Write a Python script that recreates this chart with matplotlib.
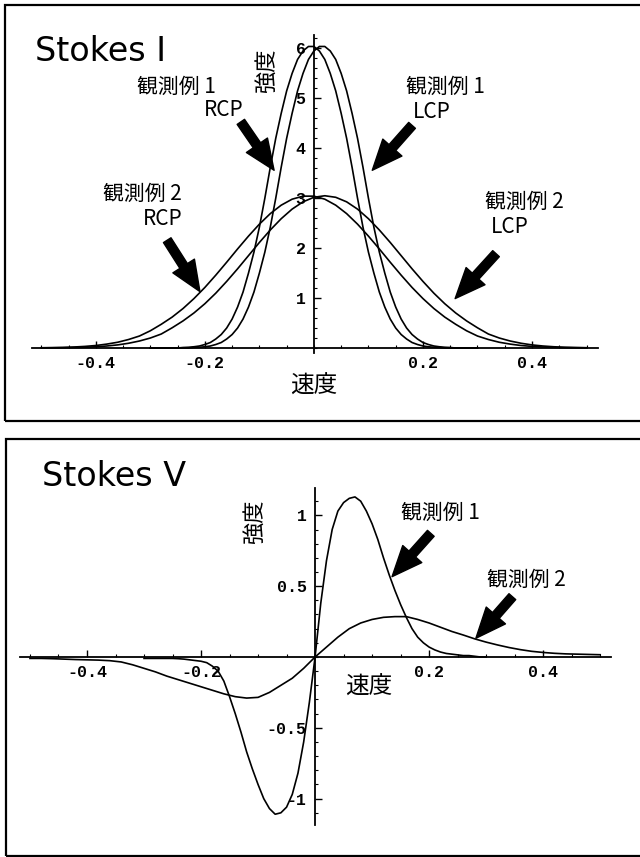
import numpy as np
import matplotlib
matplotlib.use("Agg")
import matplotlib.pyplot as plt
from matplotlib.patches import Rectangle
from matplotlib.ticker import FixedLocator, FixedFormatter, MultipleLocator

# ---------------- data ----------------
x_narrow = np.round(np.arange(-0.30, 0.3001, 0.01), 2)   # sampling for 観測例1
x_broad = np.round(np.arange(-0.50, 0.5001, 0.02), 2)    # sampling for 観測例2

# Stokes I, 観測例1 (narrow)
i_obs1_rcp = [0, 0, 0, 0, 0, 0,
              0.01, 0.015, 0.025, 0.04, 0.07, 0.11, 0.18, 0.27, 0.4, 0.58, 0.82, 1.12,
              1.5, 1.92, 2.42, 3.0, 3.62, 4.2, 4.7, 5.15, 5.5, 5.78, 5.95, 6.04,
              6.04, 5.95, 5.78, 5.5, 5.15, 4.7, 4.2, 3.62, 3.0, 2.42, 1.92, 1.5,
              1.12, 0.82, 0.58, 0.4, 0.27, 0.18, 0.11, 0.07, 0.04, 0.025, 0.015, 0.01,
              0, 0, 0, 0, 0, 0, 0]
i_obs1_lcp = [0, 0, 0, 0, 0, 0, 0, 0,
              0.01, 0.015, 0.025, 0.04, 0.07, 0.11, 0.18, 0.27, 0.4, 0.58, 0.82, 1.12,
              1.5, 1.92, 2.42, 3.0, 3.62, 4.2, 4.7, 5.15, 5.5, 5.78, 5.95, 6.04,
              6.04, 5.95, 5.78, 5.5, 5.15, 4.7, 4.2, 3.62, 3.0, 2.42, 1.92, 1.5,
              1.12, 0.82, 0.58, 0.4, 0.27, 0.18, 0.11, 0.07, 0.04, 0.025, 0.015, 0.01,
              0, 0, 0, 0, 0]
# Stokes I, 観測例2 (broad)
i_obs2_rcp = [0.005, 0.008, 0.012, 0.02, 0.032, 0.05, 0.078, 0.115, 0.17, 0.24,
              0.345, 0.475, 0.619, 0.791, 0.99, 1.213, 1.459, 1.718, 1.984, 2.241,
              2.481, 2.692, 2.861, 2.981, 3.042,
              3.042,
              2.981, 2.861, 2.692, 2.481, 2.241, 1.984, 1.718, 1.459, 1.213, 0.99,
              0.791, 0.619, 0.475, 0.345, 0.24, 0.17, 0.115, 0.078, 0.05, 0.032,
              0.02, 0.012, 0.008, 0.005, 0.003]
i_obs2_lcp = [0.003, 0.004, 0.006, 0.01, 0.015, 0.025, 0.04, 0.062, 0.095, 0.14,
              0.2, 0.28, 0.405, 0.543, 0.702, 0.887, 1.098, 1.334, 1.586, 1.85,
              2.114, 2.364, 2.59, 2.782, 2.928,
              3.019,
              3.05, 3.019, 2.928, 2.782, 2.59, 2.364, 2.114, 1.85, 1.586, 1.334,
              1.098, 0.887, 0.702, 0.543, 0.405, 0.28, 0.2, 0.14, 0.095, 0.062,
              0.04, 0.025, 0.015, 0.01, 0.006]

# Stokes V
v_obs1 = [-0.01, -0.01, -0.01, -0.01, -0.01, -0.01,
          -0.012, -0.015, -0.02, -0.025, -0.03, -0.04, -0.065, -0.1, -0.17, -0.28,
          -0.4, -0.53, -0.67, -0.79, -0.9, -1.0, -1.07, -1.11, -1.1, -1.06, -0.97,
          -0.82, -0.6, -0.32,
          0,
          0.38, 0.68, 0.9, 1.03, 1.09, 1.12, 1.13, 1.1, 1.03, 0.94,
          0.83, 0.7, 0.58, 0.47, 0.37, 0.28, 0.2, 0.14, 0.1, 0.07,
          0.05, 0.035, 0.025, 0.02, 0.015, 0.01, 0.01, 0.005, 0, 0]
v_obs2 = [-0.01, -0.01, -0.012, -0.015, -0.018, -0.02, -0.022, -0.026, -0.035, -0.055,
          -0.08, -0.105, -0.135, -0.16, -0.185, -0.21, -0.235, -0.26, -0.28, -0.29,
          -0.285, -0.25, -0.2, -0.15, -0.08,
          0,
          0.07, 0.14, 0.2, 0.24, 0.265, 0.28, 0.285, 0.285, 0.265, 0.24,
          0.21, 0.18, 0.155, 0.128, 0.105, 0.085, 0.067, 0.052, 0.04, 0.032,
          0.026, 0.022, 0.02, 0.018, 0.016]

x_tick_vals = [-0.4, -0.2, 0.2, 0.4]
x_tick_labels = ["-0.4", "-0.2", "0.2", "0.4"]
i_tick_vals = [1, 2, 3, 4, 5, 6]
i_tick_labels = ["1", "2", "3", "4", "5", "6"]
v_tick_vals = [-1, -0.5, 0.5, 1]
v_tick_labels = ["-1", "-0.5", "0.5", "1"]

# ---------------- figure ----------------
W, H = 640, 857
fig = plt.figure(figsize=(W / 100, H / 100), dpi=100)
fig.patch.set_facecolor("white")

CJK = ["Noto Sans CJK JP", "DejaVu Sans"]
TICKFONT = dict(family="Liberation Mono", weight="bold", size=12)
LBL = 15


def px_rect(x0, y0, x1, y1):
    return [x0 / W, 1 - y1 / H, (x1 - x0) / W, (y1 - y0) / H]


# frames
for (x0, y0, x1, y1) in [(5, 5, 648, 421), (6, 439, 648, 856)]:
    fig.patches.append(Rectangle((x0 / W, 1 - y1 / H), (x1 - x0) / W, (y1 - y0) / H,
                                 transform=fig.transFigure, fill=False,
                                 edgecolor="black", linewidth=1.6, clip_on=False))


def style_axes(ax, ytick_vals, ytick_labels, yminor):
    for s in ["top", "right"]:
        ax.spines[s].set_visible(False)
    ax.spines["left"].set_position(("data", 0))
    ax.spines["bottom"].set_position(("data", 0))
    ax.spines["left"].set_linewidth(1.3)
    ax.spines["bottom"].set_linewidth(1.3)
    ax.patch.set_visible(False)
    ax.xaxis.set_major_locator(FixedLocator(x_tick_vals))
    ax.xaxis.set_major_formatter(FixedFormatter(x_tick_labels))
    ax.xaxis.set_minor_locator(MultipleLocator(0.05))
    ax.yaxis.set_major_locator(FixedLocator(ytick_vals))
    ax.yaxis.set_major_formatter(FixedFormatter(ytick_labels))
    ax.yaxis.set_minor_locator(MultipleLocator(yminor))
    ax.tick_params(which="major", direction="in", length=5, width=1.0, pad=6)
    ax.tick_params(which="minor", direction="in", length=2.5, width=0.8)
    for lab in ax.get_xticklabels() + ax.get_yticklabels():
        lab.set_fontfamily(TICKFONT["family"])
        lab.set_fontweight(TICKFONT["weight"])
        lab.set_fontsize(TICKFONT["size"])


arrow_props = dict(arrowstyle="simple,head_length=0.95,head_width=0.8,tail_width=0.28",
                   mutation_scale=23, fc="black", ec="black", shrinkA=0, shrinkB=0)

# ---------------- Stokes I ----------------
ax1 = fig.add_axes(px_rect(32, 35, 598, 353))
ax1.set_xlim(-0.517, 0.521)
ax1.set_ylim(-0.1, 6.27)
lw = 1.2
ax1.plot(x_narrow, i_obs1_rcp, color="black", lw=lw)
ax1.plot(x_narrow, i_obs1_lcp, color="black", lw=lw)
ax1.plot(x_broad, i_obs2_rcp, color="black", lw=lw)
ax1.plot(x_broad, i_obs2_lcp, color="black", lw=lw)
style_axes(ax1, i_tick_vals, i_tick_labels, 0.2)

ax1.text(-0.512, 5.94, "Stokes I", fontsize=24, family="DejaVu Sans", ha="left", va="center")
ax1.text(-0.088, 5.56, "強度", fontsize=16, family=CJK, rotation=90, ha="center", va="center")
ax1.text(0.0, -0.77, "速度", fontsize=17, family=CJK, ha="center", va="center", clip_on=False)

ax1.text(-0.252, 5.23, "観測例 1", fontsize=LBL, family=CJK, ha="center", va="center")
ax1.text(-0.166, 4.76, "RCP", fontsize=LBL, family=CJK, ha="center", va="center")
ax1.text(0.242, 5.23, "観測例 1", fontsize=LBL, family=CJK, ha="center", va="center")
ax1.text(0.216, 4.73, "LCP", fontsize=LBL, family=CJK, ha="center", va="center")
ax1.text(-0.314, 3.09, "観測例 2", fontsize=LBL, family=CJK, ha="center", va="center")
ax1.text(-0.277, 2.59, "RCP", fontsize=LBL, family=CJK, ha="center", va="center")
ax1.text(0.386, 2.93, "観測例 2", fontsize=LBL, family=CJK, ha="center", va="center")
ax1.text(0.36, 2.43, "LCP", fontsize=LBL, family=CJK, ha="center", va="center")

ax1.annotate("", xy=(-0.073, 3.56), xytext=(-0.134, 4.53), arrowprops=arrow_props)
ax1.annotate("", xy=(0.107, 3.56), xytext=(0.180, 4.46), arrowprops=arrow_props)
ax1.annotate("", xy=(-0.209, 1.13), xytext=(-0.269, 2.16), arrowprops=arrow_props)
ax1.annotate("", xy=(0.259, 0.99), xytext=(0.334, 1.89), arrowprops=arrow_props)

# ---------------- Stokes V ----------------
ax2 = fig.add_axes(px_rect(20, 488, 611, 825))
ax2.set_xlim(-0.5175, 0.519)
ax2.set_ylim(-1.186, 1.193)
ax2.plot(x_narrow, v_obs1, color="black", lw=lw)
ax2.plot(x_broad, v_obs2, color="black", lw=lw)
style_axes(ax2, v_tick_vals, v_tick_labels, 0.1)

ax2.text(-0.479, 1.277, "Stokes V", fontsize=24, family="DejaVu Sans", ha="left", va="center",
         clip_on=False)
ax2.text(-0.107, 0.953, "強度", fontsize=16, family=CJK, rotation=90, ha="center", va="center")
ax2.text(0.094, -0.21, "速度", fontsize=17, family=CJK, ha="center", va="center")
ax2.text(0.219, 1.014, "観測例 1", fontsize=LBL, family=CJK, ha="center", va="center")
ax2.text(0.371, 0.543, "観測例 2", fontsize=LBL, family=CJK, ha="center", va="center")

ax2.annotate("", xy=(0.135, 0.567), xytext=(0.203, 0.873), arrowprops=arrow_props)
ax2.annotate("", xy=(0.282, 0.132), xytext=(0.346, 0.426), arrowprops=arrow_props)

fig.savefig("out.png", dpi=100, facecolor="white")
